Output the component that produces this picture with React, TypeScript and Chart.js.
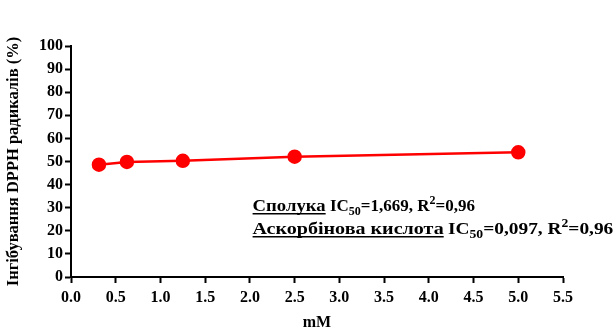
import { useEffect, useRef } from "react";
import { Chart, registerables } from "chart.js";

Chart.register(...registerables);

const concentrations = [0.3125, 0.625, 1.25, 2.5, 5.0];
const inhibition = [48.6, 49.8, 50.3, 52.1, 54.0];
const yTitle = "Інгібування DPPH радикалів (%)";
const xTitle = "mM";
const annotationLines = [
  { name: "Сполука", ic50: "=1,669, R", r2: "=0,96" },
  { name: "Аскорбінова кислота", ic50: "=0,097, R", r2: "=0,96" },
];

const FONT = "'Liberation Serif', 'Times New Roman', serif";

const annotationPlugin = {
  id: "annot",
  afterDraw(chart: any) {
    const ctx = chart.ctx as CanvasRenderingContext2D;
    const x0 = chart.scales.x.getPixelForValue(2.03);
    const ys = [chart.scales.y.getPixelForValue(30), chart.scales.y.getPixelForValue(20)];
    const stretch = [1.1, 1.18];
    const stretchRest = [1.0, 1.14];
    ctx.save();
    ctx.fillStyle = "#000";
    ctx.strokeStyle = "#000";
    ctx.textBaseline = "alphabetic";
    annotationLines.forEach((ln, i) => {
      const base = ys[i] + 3;
      const big = `bold 17px ${FONT}`;
      const small = `bold 12px ${FONT}`;
      ctx.font = big;
      ctx.save();
      ctx.translate(x0, base);
      ctx.scale(stretch[i], 1);
      ctx.fillText(ln.name, 0, 0);
      ctx.restore();
      const w = ctx.measureText(ln.name).width * stretch[i];
      ctx.lineWidth = 1.5;
      ctx.beginPath();
      ctx.moveTo(x0, base + 3);
      ctx.lineTo(x0 + w, base + 3);
      ctx.stroke();
      ctx.save();
      ctx.translate(x0 + w + ctx.measureText(" ").width, base);
      ctx.scale(stretchRest[i], 1);
      let x = 0;
      ctx.fillText("IC", x, 0);
      x += ctx.measureText("IC").width;
      ctx.font = small;
      ctx.fillText("50", x, 4);
      x += ctx.measureText("50").width;
      ctx.font = big;
      ctx.fillText(ln.ic50, x, 0);
      x += ctx.measureText(ln.ic50).width;
      ctx.font = small;
      ctx.fillText("2", x, -7);
      x += ctx.measureText("2").width;
      ctx.font = big;
      ctx.fillText(ln.r2, x, 0);
      ctx.restore();
    });
    ctx.restore();
  },
};

export default function App() {
  const ref = useRef<HTMLCanvasElement | null>(null);
  useEffect(() => {
    document.body.style.margin = "0";
    const chart = new Chart(ref.current!, {
      type: "scatter",
      data: {
        datasets: [
          {
            data: concentrations.map((c, i) => ({ x: c, y: inhibition[i] })),
            showLine: true,
            borderColor: "#ff0000",
            backgroundColor: "#ff0000",
            borderWidth: 2.5,
            pointRadius: 6,
            pointHoverRadius: 6,
          },
        ],
      },
      options: {
        animation: false,
        responsive: false,
        events: [],
        layout: { padding: { left: 0, right: 51, top: 46, bottom: 0 } },
        plugins: { legend: { display: false }, tooltip: { enabled: false } },
        scales: {
          x: {
            type: "linear",
            min: 0,
            max: 5.5,
            afterFit: (s: any) => {
              s.height = 52;
            },
            ticks: {
              stepSize: 0.5,
              color: "#000",
              font: { family: FONT, weight: "bold", size: 16 },
              padding: 5,
              callback: (v: any) => Number(v).toFixed(1),
            },
            grid: { drawOnChartArea: false, tickLength: 6, tickWidth: 2, tickColor: "#000" },
            border: { color: "#000", width: 2 },
            title: {
              display: true,
              text: xTitle,
              color: "#000",
              font: { family: FONT, weight: "bold", size: 16, lineHeight: 1 },
              padding: { top: 6, bottom: -2 },
            },
          },
          y: {
            min: 0,
            max: 100,
            afterFit: (s: any) => {
              s.width = 71;
            },
            ticks: {
              stepSize: 10,
              color: "#000",
              font: { family: FONT, weight: "bold", size: 16 },
              padding: 2,
            },
            grid: { drawOnChartArea: false, tickLength: 6, tickWidth: 2, tickColor: "#000" },
            border: { color: "#000", width: 2 },
            title: {
              display: true,
              text: yTitle,
              color: "#000",
              font: { family: FONT, weight: "bold", size: 16.5 },
              padding: { top: 4, bottom: 0 },
            },
          },
        },
      },
      plugins: [annotationPlugin],
    });
    return () => chart.destroy();
  }, []);
  return <canvas ref={ref} width={614} height={329} style={{ display: "block" }} />;
}
